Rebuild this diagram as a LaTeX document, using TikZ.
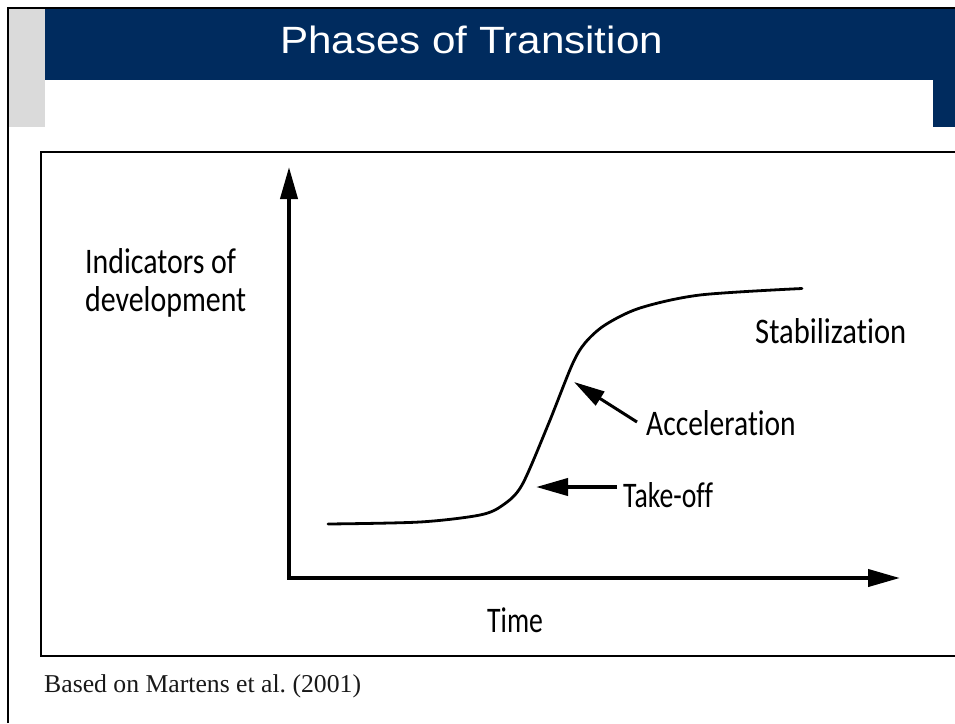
\documentclass[tikz,border=0pt]{standalone}
\usepackage{fontspec}
\setmainfont{Liberation Serif}
\newfontfamily\labfont[Ligatures=NoCommon]{Carlito}
\newfontfamily\titfont{Liberation Sans}
\usetikzlibrary{arrows.meta}
\definecolor{navy}{RGB}{0,43,94}
\definecolor{lgray}{RGB}{218,218,218}
\definecolor{captext}{RGB}{25,25,25}
\tikzset{
  lab/.style={inner sep=0pt, anchor=base west, font=\labfont\fontsize{36}{38}\selectfont},
  axisline/.style={line width=4pt, line join=miter,
    {Triangle[length=32pt,width=17pt]}-{Triangle[length=32pt,width=17pt]}},
  pointer/.style={line width=3pt, -{Triangle[length=31pt,width=16pt]}},
  thickpointer/.style={line width=4pt, -{Triangle[length=32pt,width=17pt]}},
  curve/.style={line width=2.8pt, line cap=round},
  frame/.style={line width=2pt},
}
\newcommand{\lx}[2]{\scalebox{#1}[1]{#2}}
\frenchspacing
\begin{document}
\begin{tikzpicture}[x=1pt,y=-1pt]
\useasboundingbox (0,0) rectangle (955,723);
\clip (0,0) rectangle (955,723);
\fill[white] (0,0) rectangle (955,723);
% header
\fill[lgray] (9,9) rectangle (45,127);
\fill[navy] (45,9) rectangle (955,80);
\fill[navy] (933,80) rectangle (955,127);
\draw[line width=2.4pt] (8,723) -- (8,8) -- (960,8);
\node[inner sep=0pt, anchor=base, text=white, font=\titfont\fontsize{38}{40}\selectfont] (title) at (471.5,53) {\scalebox{1.11}[1]{Phases of Transition}};
% inner frame
\draw[frame] (41,152) rectangle (975,655.5);
% axes
\coordinate (ytip) at (289,167);
\coordinate (origin) at (289,578);
\coordinate (xtip) at (900,578);
\draw[axisline] (ytip) -- (origin) -- (xtip);
% curve
\draw[curve] plot[smooth, tension=0.5] coordinates {(328,524) (420,522) (480,515) (503,505) (522,485) (548,425) (572,365) (585,343) (605,325) (640,308) (700,295) (802,288.5)};
% labels
\node[lab] (ind) at (85,273) {\lx{0.83}{\vtop{\baselineskip=38pt\hbox{Indicators of}\hbox{development}}}};
\node[lab] (stab) at (755,343) {\lx{0.85}{Stabilization}};
\node[lab] (acc) at (646,435) {\lx{0.82}{Acceleration}};
\node[lab] (take) at (623,507) {\lx{0.77}{Take-off}};
\node[lab] (time) at (487,632) {\lx{0.77}{Time}};
% pointers
\coordinate (acctail) at (637,422);
\coordinate (acctip) at (574,382);
\coordinate (taketail) at (617,487);
\coordinate (taketip) at (536,487);
\draw[pointer] (acctail) -- (acctip);
\draw[thickpointer] (taketail) -- (taketip);
% caption
\node[inner sep=0pt, anchor=base west, text=captext, font=\fontsize{25.7}{28}\selectfont] (cap) at (44,692) {Based on Martens et al. (2001)};
\end{tikzpicture}
\end{document}
